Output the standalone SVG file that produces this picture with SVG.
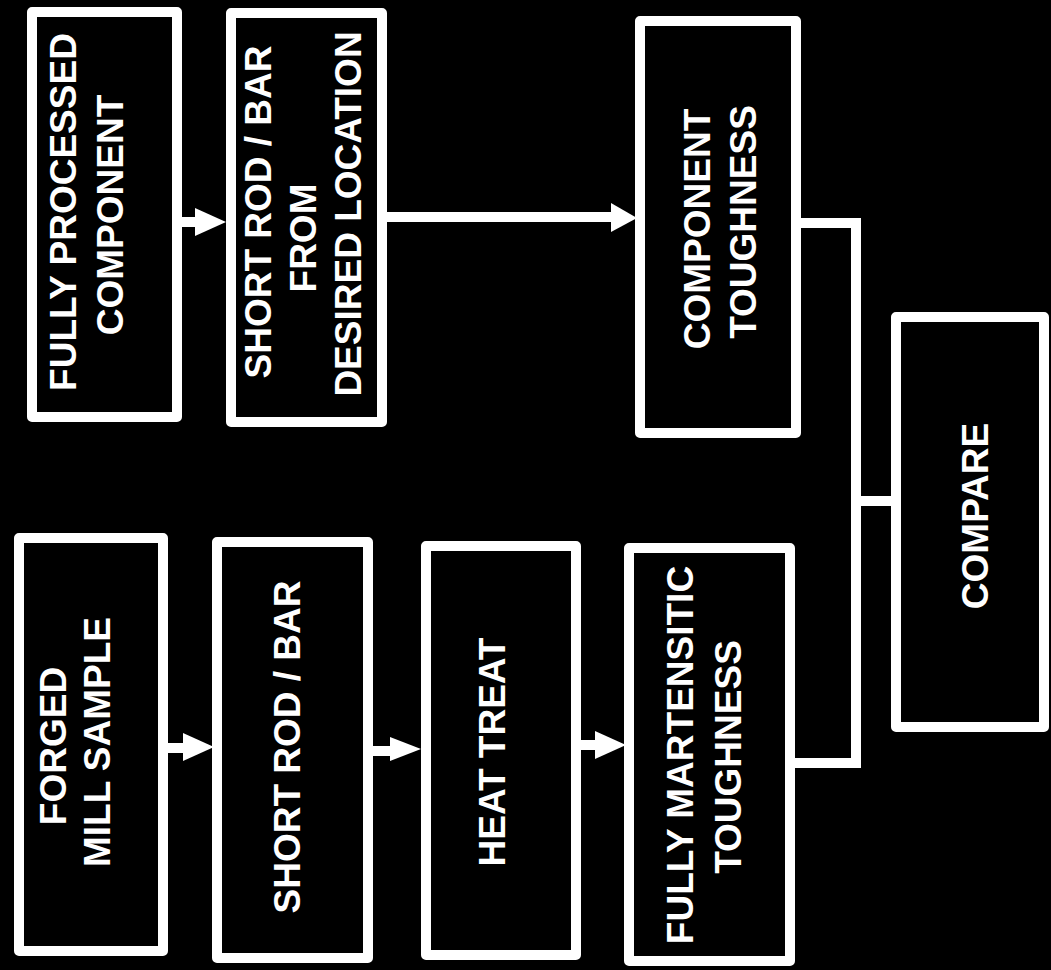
<svg xmlns="http://www.w3.org/2000/svg" width="1051" height="970" viewBox="0 0 1051 970">
<style>
.box{fill:#000;stroke:#fff;stroke-width:10;stroke-linejoin:round}
.t{font-family:"Liberation Sans",Arial,sans-serif;font-weight:bold;font-size:37px;fill:#fff;text-anchor:middle}
.ln{fill:none;stroke:#fff;stroke-width:10;stroke-linejoin:miter}
.hd{fill:#fff}
</style>
<rect x="0" y="0" width="1051" height="970" fill="#000"/>
<g id="connectors">
<line class="ln" x1="180" y1="222" x2="200" y2="222"/>
<polygon class="hd" points="195,208 226,222 195,236"/>
<line class="ln" x1="385" y1="217" x2="616" y2="217"/>
<polygon class="hd" points="611,203 637,218 611,232"/>
<line class="ln" x1="166" y1="748" x2="188" y2="748"/>
<polygon class="hd" points="183,733 214,747 183,761"/>
<line class="ln" x1="371" y1="751" x2="394" y2="751"/>
<polygon class="hd" points="390,737 421,749 390,761"/>
<line class="ln" x1="579" y1="745" x2="599" y2="745"/>
<polygon class="hd" points="595,731 626,745 595,759"/>
<polyline class="ln" points="798,223 856,223 856,763 792,763"/>
<line class="ln" x1="856" y1="501" x2="893" y2="501"/>
</g>
<g id="n1">
<rect class="box" x="32" y="12" width="145" height="405"/>
<text class="t" transform="translate(76,212) rotate(-90)">FULLY PROCESSED</text>
<text class="t" transform="translate(123,215) rotate(-90)">COMPONENT</text>
</g>
<g id="n2">
<rect class="box" x="231" y="13" width="151" height="409"/>
<text class="t" transform="translate(271,212) rotate(-90)">SHORT ROD / BAR</text>
<text class="t" transform="translate(316,238) rotate(-90)">FROM</text>
<text class="t" transform="translate(361,214) rotate(-90)">DESIRED LOCATION</text>
</g>
<g id="n3">
<rect class="box" x="640" y="21" width="156" height="412"/>
<text class="t" transform="translate(710,229) rotate(-90)">COMPONENT</text>
<text class="t" transform="translate(756,222) rotate(-90)">TOUGHNESS</text>
</g>
<g id="n4">
<rect class="box" x="896" y="317" width="148" height="410"/>
<text class="t" transform="translate(988,516) rotate(-90)">COMPARE</text>
</g>
<g id="n5">
<rect class="box" x="19" y="538" width="144" height="413"/>
<text class="t" transform="translate(66,746) rotate(-90)">FORGED</text>
<text class="t" transform="translate(110,742) rotate(-90)">MILL SAMPLE</text>
</g>
<g id="n6">
<rect class="box" x="217" y="542" width="151" height="416"/>
<text class="t" transform="translate(300,747) rotate(-90)">SHORT ROD / BAR</text>
</g>
<g id="n7">
<rect class="box" x="426" y="546" width="150" height="409"/>
<text class="t" transform="translate(505,752) rotate(-90)">HEAT TREAT</text>
</g>
<g id="n8">
<rect class="box" x="629" y="548" width="161" height="413"/>
<text class="t" transform="translate(693,755) rotate(-90)">FULLY MARTENSITIC</text>
<text class="t" transform="translate(741,757) rotate(-90)">TOUGHNESS</text>
</g>
</svg>
